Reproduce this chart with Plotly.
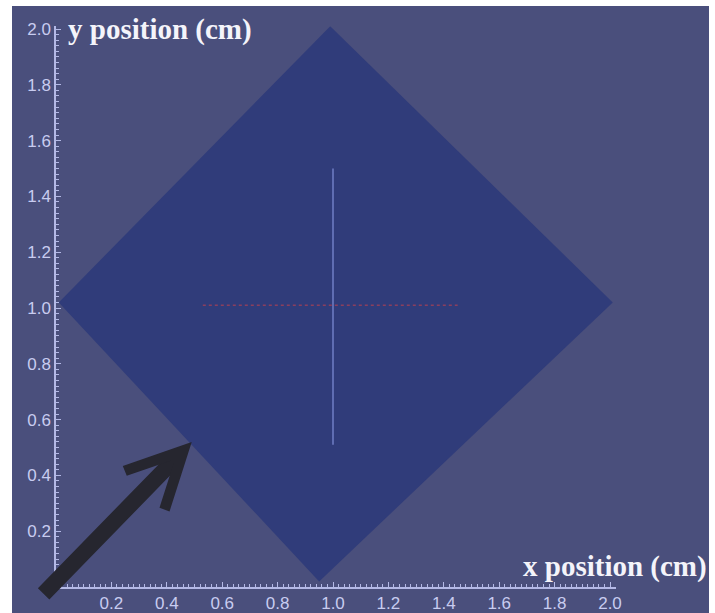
import plotly.graph_objects as go

# Square sample region (rotated 45 degrees), corner points in cm
diamond_x = [0.99, 2.01, 0.95, 0.01, 0.99]
diamond_y = [2.01, 1.02, 0.02, 1.02, 2.01]

# Vertical scan line through the centre
scan_x = [1.0, 1.0]
scan_y = [0.51, 1.50]

# Horizontal dotted reference line
ref_x = [0.53, 1.45]
ref_y = [1.01, 1.01]

# Incidence arrow: tail and tip, in cm
arrow_tail = (-0.05, -0.03)
arrow_tip = (0.49, 0.52)

tick_vals = [0.2, 0.4, 0.6, 0.8, 1.0, 1.2, 1.4, 1.6, 1.8, 2.0]
tick_text = ["0.2", "0.4", "0.6", "0.8", "1.0", "1.2", "1.4", "1.6", "1.8", "2.0"]

BG = "#4a4f7c"
DIAMOND = "#303c7a"
AXIS = "#b4b9e6"
TICKFONT = "#c8ccf0"

W, H = 715, 613
x0_px, y0_px = 56, 587        # pixel position of the origin
ppu_x, ppu_y = 277, 279       # pixels per cm
x_range = [0, 2.02]
y_range = [0, 2.01]

x_dom = [x0_px / W, (x0_px + x_range[1] * ppu_x) / W]
y_dom = [(H - y0_px) / H, (H - (y0_px - y_range[1] * ppu_y)) / H]

fig = go.Figure()

fig.add_trace(go.Scatter(
    x=diamond_x, y=diamond_y, mode="lines", fill="toself",
    fillcolor=DIAMOND, line=dict(width=0, color=DIAMOND),
    hoverinfo="skip", showlegend=False,
))
fig.add_trace(go.Scatter(
    x=ref_x, y=ref_y, mode="lines",
    line=dict(color="#8a3f5e", width=1.5, dash="dot"),
    hoverinfo="skip", showlegend=False,
))
fig.add_trace(go.Scatter(
    x=scan_x, y=scan_y, mode="lines",
    line=dict(color="#6f7ec6", width=1.5),
    hoverinfo="skip", showlegend=False,
))

axis_common = dict(
    showgrid=False, zeroline=False,
    showline=True, linecolor=AXIS, linewidth=1.5,
    tickmode="array", tickvals=tick_vals, ticktext=tick_text,
    ticks="inside", ticklen=5, tickcolor=AXIS, tickwidth=1,
    tickfont=dict(family="Liberation Sans, Arial", size=17, color=TICKFONT),
    minor=dict(ticks="inside", ticklen=3, dtick=0.02, tick0=0,
               tickcolor=AXIS, tickwidth=1),
    fixedrange=True,
)

fig.update_layout(
    width=W, height=H, autosize=False,
    margin=dict(l=0, r=0, t=0, b=0, pad=0),
    paper_bgcolor=BG, plot_bgcolor=BG,
    xaxis=dict(axis_common, range=x_range, domain=x_dom, anchor="y",
               automargin=False),
    yaxis=dict(axis_common, range=y_range, domain=y_dom, anchor="x",
               automargin=False),
    showlegend=False,
)

# Axis titles
title_font = dict(family="Liberation Serif, Times New Roman", size=29,
                  color="#f4f4fa", weight="bold")
fig.add_annotation(
    text="y position (cm)", xref="paper", yref="paper",
    x=66 / W, y=(H - 30) / H, xanchor="left", yanchor="middle",
    showarrow=False, font=title_font,
)
fig.add_annotation(
    text="x position (cm)", xref="paper", yref="paper",
    x=709 / W, y=(H - 566) / H, xanchor="right", yanchor="middle",
    showarrow=False, font=title_font,
)

# Incidence arrow
fig.add_annotation(
    x=arrow_tip[0], y=arrow_tip[1], xref="x", yref="y",
    ax=arrow_tail[0], ay=arrow_tail[1], axref="x", ayref="y",
    text="", showarrow=True, arrowhead=5, arrowsize=0.68,
    arrowwidth=16, arrowcolor="#26262f", standoff=0,
)

# White frame strips on the top, left and right edges
for x0, x1, y0, y1 in [(0, 12 / W, 0, 1), (0, 1, 1 - 6 / H, 1),
                       (709 / W, 1, 0, 1)]:
    fig.add_shape(type="rect", xref="paper", yref="paper",
                  x0=x0, x1=x1, y0=y0, y1=y1,
                  fillcolor="white", line=dict(width=0), layer="above")

fig.write_html("out.html")
